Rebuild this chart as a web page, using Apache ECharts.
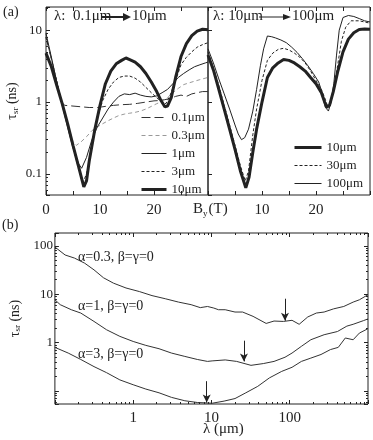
<!DOCTYPE html>
<html>
<head>
<meta charset="utf-8">
<script src="https://cdn.jsdelivr.net/npm/echarts@6/dist/echarts.min.js"></script>
<style>
  html, body { margin: 0; padding: 0; background: #fff; }
  #fig { width: 373px; height: 440px; }
</style>
</head>
<body>
<div id="fig"></div>
<script>
// (a) left: tau_sr vs B_y for lambda 0.1 -> 10 um
let L01 = [[0,8],[1,4],[2,1.9],[2.8,1.0],[3.5,0.9],[5,0.88],[6.5,0.86],[8,0.84],[9.5,0.84],[11,0.87],[12.5,0.9],[14,0.92],[15.5,0.93],[17,0.96],[18.5,1.0],[20,1.04],[21,1.05],[22,1.08],[23,1.12],[24,1.2],[25,1.25],[26,1.2],[27,1.3],[28,1.35],[29,1.4],[30,1.4]]
let L03 = [[0,8],[1,4],[2,1.9],[3,0.95],[4,0.5],[5,0.28],[5.6,0.25],[6.5,0.28],[7.5,0.33],[8.5,0.4],[9.5,0.45],[10.5,0.5],[11.5,0.55],[12.5,0.6],[13.5,0.65],[14.5,0.68],[15.5,0.7],[16.5,0.72],[17.5,0.75],[18.5,0.8],[19.5,0.87],[20.5,0.95],[21.5,1.02],[22.5,1.15],[23.5,1.35],[24.5,1.55],[25.5,1.75],[26.5,1.85],[27.5,1.95],[28.5,2.05],[30,2.2]]
let L1 = [[0,9],[1,4.2],[2,1.9],[3,0.9],[4,0.45],[5,0.23],[6,0.14],[6.6,0.12],[7.5,0.17],[8.5,0.3],[9.5,0.45],[10.5,0.6],[11.5,0.8],[12.5,1.0],[13.5,1.2],[14.5,1.3],[15.5,1.27],[16.5,1.33],[17.5,1.25],[18.5,1.2],[19.5,1.18],[20.5,1.22],[21.5,1.35],[22.5,1.5],[23.5,1.8],[24.5,2.2],[25.5,2.5],[26.5,2.8],[27.5,3.1],[28.5,3.3],[29.5,3.5],[30,3.6]]
let L3 = [[0,8],[1,4],[2,1.9],[3,0.95],[4,0.48],[5,0.24],[6,0.12],[6.8,0.075],[7.5,0.1],[8.5,0.25],[9.5,0.6],[10.5,1.05],[11.5,1.5],[12.5,1.9],[13.5,2.2],[14.5,2.3],[15.5,2.3],[16.5,2.15],[17.5,1.9],[18.5,1.6],[19.5,1.35],[20.5,1.15],[21.5,1.0],[22.2,0.95],[23,1.25],[24,2.0],[25,3.3],[26,4.2],[27,5.0],[28,5.8],[29,6.3],[30,6.7]]
let L10 = [[0,4.8],[1,3.1],[2,1.7],[3,0.95],[4,0.5],[5,0.25],[6,0.13],[7,0.066],[7.5,0.08],[8,0.15],[9,0.4],[10,0.9],[11,1.8],[12,2.7],[13,3.4],[14,3.8],[14.8,4.1],[15.5,3.9],[16.5,3.6],[17.5,3.1],[18.5,2.5],[19.5,1.9],[20.5,1.4],[21.3,1.05],[22,0.86],[22.5,0.88],[23.2,1.15],[24,2.2],[25,4.3],[26,6.5],[27,8.4],[28,9.7],[29,10.3],[30,10.1]]

// (a) right: lambda 10 -> 100 um
let R10 = [[0,4.5],[1,2.8],[2,1.5],[3,0.8],[4,0.42],[5,0.22],[6,0.11],[7,0.064],[7.6,0.09],[8.3,0.2],[9,0.42],[10,1.0],[11,2.2],[12,3.0],[13,3.5],[14,3.9],[15,3.8],[16,3.5],[17,3.1],[18,2.7],[19,2.2],[20,1.8],[21,1.35],[21.6,1.0],[22,0.85],[22.5,0.9],[23.2,1.4],[24,2.6],[25,5.0],[26,7.5],[27,9.2],[28,10.2],[29,10.4],[30,10.3]]
let R30 = [[0,5],[1,3],[2,1.7],[3,0.9],[4,0.48],[5,0.25],[6,0.13],[6.9,0.08],[7.5,0.11],[8.3,0.35],[9,0.8],[10,2.0],[11,3.8],[12,4.8],[13,5.4],[14,5.6],[15,5.3],[16,4.8],[17,4.2],[18,3.5],[19,2.7],[20,2.0],[21,1.5],[21.7,1.1],[22.2,0.85],[22.7,1.0],[23.3,1.6],[24,3.2],[24.7,7],[25.5,11],[26.5,13.5],[28,13.5],[29,13],[30,12.5]]
let R100 = [[0,5.5],[1,3.5],[2,2.1],[3,1.3],[4,0.8],[5,0.48],[5.6,0.36],[6.2,0.3],[6.8,0.32],[7.5,0.42],[8.3,0.75],[9,1.5],[9.7,3.2],[10.3,5.5],[11,8.3],[11.8,8.1],[12.5,7.8],[13.5,7.3],[14.5,6.7],[15.5,5.8],[16.5,4.9],[17.5,4.0],[18.5,3.2],[19.5,2.5],[20.5,1.9],[21.2,1.3],[21.7,0.85],[22.3,0.75],[22.8,1.0],[23.3,1.8],[23.8,4.5],[24.3,10],[25,15],[26,16],[27,15.5],[28,14.5],[29,13.5],[30,13]]

// (b): tau_sr vs lambda (um)
let B03 = [[0.1,95],[0.135,65],[0.178,56],[0.24,44],[0.316,32],[0.417,22],[0.56,17],[0.81,13.5],[1.2,11.4],[1.74,9.4],[2.57,8.1],[3.8,6.9],[5.5,6.1],[7.2,5.3],[8.9,5.6],[10.7,5.2],[12.3,4.8],[15,4.8],[20,4.3],[25,4.3],[34,3.5],[50,2.5],[63,2.8],[83,2.75],[107,2.9],[132,2.4],[170,3.4],[219,4.1],[275,4.3],[363,5.0],[490,5.6],[646,6.9],[776,7.7],[1000,9.8]]
let B1 = [[0.1,7.7],[0.117,6.1],[0.162,4.8],[0.214,4.1],[0.316,2.75],[0.457,1.85],[0.676,1.35],[1.0,1.06],[1.45,0.88],[2.14,0.75],[3.09,0.61],[4.57,0.52],[6.6,0.45],[8.9,0.41],[10.2,0.42],[15,0.44],[21,0.41],[32,0.34],[46,0.37],[63,0.41],[87,0.5],[107,0.61],[141,0.84],[186,1.15],[275,1.46],[407,1.7],[537,2.2],[646,2.4],[871,2.85],[1000,3.1]]
let B3 = [[0.1,0.8],[0.148,0.61],[0.214,0.45],[0.316,0.32],[0.457,0.24],[0.676,0.17],[1.0,0.135],[1.45,0.11],[2.14,0.092],[3.09,0.074],[4.57,0.063],[6.6,0.058],[10.2,0.056],[14.5,0.062],[20,0.07],[27.5,0.092],[39,0.125],[55,0.187],[79,0.255],[107,0.31],[141,0.41],[186,0.48],[251,0.57],[331,0.72],[417,0.8],[513,1.25],[646,1.15],[776,1.58],[1000,1.95]]

// arrows in (b): [lambda, from, to]
let arrows = [[87,8.1,2.85],[26,1.1,0.41],[8.7,0.16,0.058]]

let namesLeft = ['0.1μm','0.3μm','1μm','3μm','10μm']
let namesRight = ['10μm','30μm','100μm']
let ticksA = [0,10,20]
let ticksAR = [10,20]
let ticksAy = [0.1,1,10]
let ticksBx = [1,10,100]
let ticksBy = [1,10,100]

let ink = '#222'
let serif = '"Liberation Serif", "Times New Roman", serif'

function pick(list){
  return function(v){
    let r = Number(Number(v).toPrecision(6))
    return list.indexOf(r) >= 0 ? String(r) : ''
  }
}

let tick = {show:true, inside:true, length:4, lineStyle:{color:ink}}
let minor = {show:true, splitNumber:9, length:2, lineStyle:{color:ink}}
let noLabel = {show:false}

function xA(grid, labels, pos){
  return {
    type:'value', gridIndex:grid, min:0, max:30, interval:5, position:pos,
    axisLine:{show:false}, axisTick:tick, splitLine:{show:false},
    axisLabel: labels ? {formatter:pick(labels), color:ink, fontFamily:serif, fontSize:15, margin:8} : noLabel
  }
}

let yName = '{t|τ}{s|sr}{t| (ns)}'
let yNameStyle = {
  color:ink, fontFamily:serif,
  rich:{t:{fontSize:14, fontFamily:serif, color:ink}, s:{fontSize:9, fontFamily:serif, color:ink, verticalAlign:'bottom', padding:[6,0,0,0]}}
}

function line(name, data, xi, yi, width, type, color){
  return {
    name:name, type:'line', xAxisIndex:xi, yAxisIndex:yi, data:data,
    symbol:'none', smooth:false, silent:true,
    itemStyle:{color:color || ink},
    lineStyle:{color:color || ink, width:width, type:type || 'solid'}
  }
}

function arrowMark(a){
  return {
    silent:true, symbol:['none','arrow'], symbolSize:[6,8],
    lineStyle:{color:ink, width:1, type:'solid'}, label:{show:false},
    data:[[{coord:[a[0],a[1]]},{coord:[a[0],a[2]]}]]
  }
}

let chart = echarts.init(document.getElementById('fig'))
let txt = {font:'14px ' + serif, fill:ink}

let sB03 = line('b03', B03, 4, 2, 1, 'solid', '#333'); sB03.markLine = arrowMark(arrows[0])
let sB1 = line('b1', B1, 4, 2, 1, 'solid', '#333'); sB1.markLine = arrowMark(arrows[1])
let sB3 = line('b3', B3, 4, 2, 1, 'solid', '#333'); sB3.markLine = arrowMark(arrows[2])

let legendText = {fontFamily:serif, fontSize:13, color:ink, lineHeight:12}

chart.setOption({
  animation:false,
  backgroundColor:'#fff',
  grid:[
    {left:46, top:7, width:162, height:188, show:true, borderColor:ink, borderWidth:1},
    {left:208, top:7, width:164, height:188, show:true, borderColor:ink, borderWidth:1},
    {left:48, top:233, width:320, height:171, show:true, borderColor:ink, borderWidth:1}
  ],
  xAxis:[
    xA(0, ticksA, 'bottom'),
    xA(1, ticksAR, 'bottom'),
    xA(0, null, 'top'),
    xA(1, null, 'top'),
    {type:'log', gridIndex:2, min:0.1, max:1000, position:'bottom',
      axisLine:{show:false}, axisTick:tick, minorTick:minor, splitLine:{show:false},
      axisLabel:{formatter:pick(ticksBx), color:ink, fontFamily:serif, fontSize:15, margin:7}},
    {type:'log', gridIndex:2, min:0.1, max:1000, position:'top',
      axisLine:{show:false}, axisTick:tick, minorTick:minor, splitLine:{show:false}, axisLabel:noLabel}
  ],
  yAxis:[
    {type:'log', gridIndex:0, min:0.051, max:21,
      axisLine:{show:false}, axisTick:tick, minorTick:minor, splitLine:{show:false},
      axisLabel:{formatter:pick(ticksAy), color:ink, fontFamily:serif, fontSize:13, margin:4},
      name:yName, nameLocation:'middle', nameGap:26, nameRotate:90, nameTextStyle:yNameStyle},
    {type:'log', gridIndex:1, min:0.051, max:21,
      axisLine:{show:false}, axisTick:tick, splitLine:{show:false}, axisLabel:noLabel},
    {type:'log', gridIndex:2, min:0.054, max:185,
      axisLine:{show:false}, axisTick:tick, minorTick:minor, splitLine:{show:false},
      axisLabel:{formatter:pick(ticksBy), color:ink, fontFamily:serif, fontSize:13, margin:2},
      name:yName, nameLocation:'middle', nameGap:28, nameRotate:90, nameTextStyle:yNameStyle},
    {type:'log', gridIndex:2, min:0.054, max:185, position:'right',
      axisLine:{show:false}, axisTick:tick, minorTick:minor, splitLine:{show:false}, axisLabel:noLabel}
  ],
  legend:[
    {data:namesLeft, orient:'vertical', left:140, top:111, padding:0, itemWidth:25, itemHeight:10, itemGap:5,
      selectedMode:false, itemStyle:{opacity:0}, lineStyle:{width:'inherit'}, textStyle:legendText},
    {data:namesRight, orient:'vertical', left:293, top:141, padding:0, itemWidth:27, itemHeight:10, itemGap:5,
      selectedMode:false, itemStyle:{opacity:0}, lineStyle:{width:'inherit'}, textStyle:legendText}
  ],
  series:[
    line(namesLeft[0], L01, 0, 0, 1, [9,4], '#333'),
    line(namesLeft[1], L03, 0, 0, 1, [4,3], '#999'),
    line(namesLeft[2], L1, 0, 0, 1),
    line(namesLeft[3], L3, 0, 0, 1, [3,2]),
    line(namesLeft[4], L10, 0, 0, 3),
    line(namesRight[0], R10, 1, 1, 3),
    line(namesRight[1], R30, 1, 1, 1, [3,2]),
    line(namesRight[2], R100, 1, 1, 1),
    sB03, sB1, sB3
  ],
  graphic:[
    {type:'text', left:3, top:5, style:Object.assign({text:'(a)'}, txt)},
    {type:'text', left:2, top:218, style:Object.assign({text:'(b)'}, txt)},
    {type:'text', left:54, top:9, style:{text:'λ:  0.1μm', font:'15px ' + serif, fill:ink}},
    {type:'line', shape:{x1:101, y1:17, x2:124, y2:17}, style:{stroke:ink, lineWidth:2}},
    {type:'polygon', shape:{points:[[123,13],[131,17],[123,21]]}, style:{fill:ink}},
    {type:'text', left:132, top:9, style:{text:'10μm', font:'15px ' + serif, fill:ink}},
    {type:'text', left:213, top:9, style:{text:'λ: 10μm', font:'15px ' + serif, fill:ink}},
    {type:'line', shape:{x1:259, y1:17, x2:284, y2:17}, style:{stroke:ink, lineWidth:1}},
    {type:'polygon', shape:{points:[[283,14],[291,17],[283,20]]}, style:{fill:ink}},
    {type:'text', left:292, top:9, style:{text:'100μm', font:'15px ' + serif, fill:ink}},
    {type:'text', left:193, top:202, style:{
      text:'{t|B}{s|y}{t|(T)}',
      rich:{t:{font:'15px ' + serif, fill:ink}, s:{font:'9px ' + serif, fill:ink, verticalAlign:'bottom', padding:[8,1,0,0]}}
    }},
    {type:'text', left:203, top:422, style:{text:'λ (μm)', font:'15px ' + serif, fill:ink}},
    {type:'text', left:78, top:250, style:{text:'α=0.3, β=γ=0', font:'14px ' + serif, fill:ink}},
    {type:'text', left:78, top:299, style:{text:'α=1, β=γ=0', font:'14px ' + serif, fill:ink}},
    {type:'text', left:78, top:347, style:{text:'α=3, β=γ=0', font:'14px ' + serif, fill:ink}}
  ]
})
</script>
</body>
</html>
